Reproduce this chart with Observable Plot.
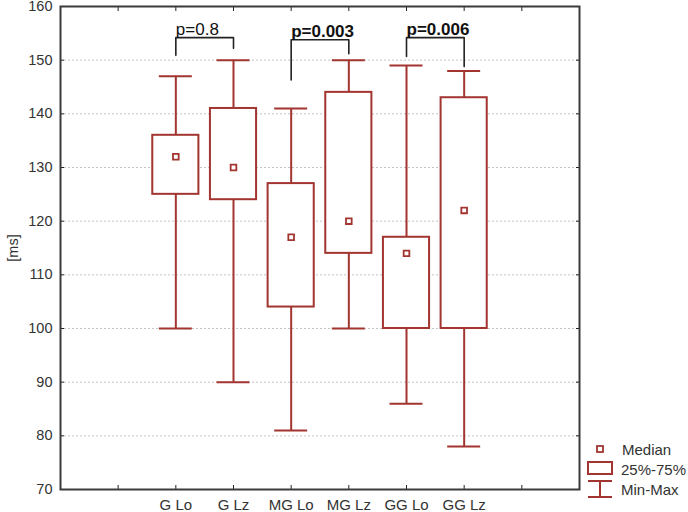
<!DOCTYPE html>
<html><head><meta charset="utf-8">
<script src="https://cdn.jsdelivr.net/npm/d3@7"></script>
<script src="https://cdn.jsdelivr.net/npm/@observablehq/plot@0.6"></script>
<style>
html,body{margin:0;padding:0;background:#fff;}
#wrap{position:relative;width:688px;height:512px;font-family:"Liberation Sans",Arial,sans-serif;}
#legend{position:absolute;left:0;top:0;}
</style></head>
<body><div id="wrap"></div>
<script>
// Data
const categories = ["G Lo", "G Lz", "MG Lo", "MG Lz", "GG Lo", "GG Lz"];
const minVals    = [100, 90, 81, 100, 86, 78];
const q1Vals     = [125, 124, 104, 114, 100, 100];
const medianVals = [132, 130, 117, 120, 114, 122];
const q3Vals     = [136, 141, 127, 144, 117, 143];
const maxVals    = [147, 150, 141, 150, 149, 148];

const tickLabels = ["", "G Lo", "G Lz", "MG Lo", "MG Lz", "GG Lo", "GG Lz", ""];
const yTicks = [70, 80, 90, 100, 110, 120, 130, 140, 150, 160];

// significance brackets
const pLabels = ["p=0.8", "p=0.003", "p=0.006"];
const pBold   = [false, true, true];
const pLeft   = ["G Lo", "MG Lo", "GG Lo"];
const pRight  = ["G Lz", "MG Lz", "GG Lz"];
const pTop    = [154.2, 153.8, 154.2];
const pLegL   = [150.9, 146.3, 150.7];
const pLegR   = [152.2, 151.2, 148.8];

const RED = "#a23530";
const INK = "#333";
const pos = c => tickLabels.indexOf(c) + 1;

const boxes = categories.map((c, k) => ({
  c, x: pos(c), min: minVals[k], q1: q1Vals[k], med: medianVals[k], q3: q3Vals[k], max: maxVals[k]
}));

const bracketPts = [];
pLabels.forEach((lab, k) => {
  const a = pos(pLeft[k]), b = pos(pRight[k]);
  bracketPts.push({k, x: a, y: pLegL[k]}, {k, x: a, y: pTop[k]}, {k, x: b, y: pTop[k]}, {k, x: b, y: pLegR[k]});
});
const bracketText = pLabels.map((lab, k) => ({lab, bold: pBold[k], x: pos(pLeft[k]), y: pTop[k]}));

const chart = Plot.plot({
  width: 688, height: 512,
  marginLeft: 60, marginRight: 109, marginTop: 6, marginBottom: 23,
  style: {fontFamily: '"Liberation Sans", Arial, sans-serif', fontSize: "14px", color: INK, background: "#fff", overflow: "visible"},
  x: {domain: [0, 9]},
  y: {domain: [70, 160]},
  marks: [
    Plot.gridY([80, 90, 100, 110, 120, 130, 140, 150], {stroke: "#c4c4c4", strokeOpacity: 1, strokeDasharray: "2,2", strokeWidth: 1}),
    // whiskers
    Plot.ruleX(boxes, {x: "x", y1: "min", y2: "max", stroke: RED, strokeWidth: 2}),
    Plot.ruleY(boxes, {y: "min", x1: d => d.x - 0.286, x2: d => d.x + 0.286, stroke: RED, strokeWidth: 2}),
    Plot.ruleY(boxes, {y: "max", x1: d => d.x - 0.286, x2: d => d.x + 0.286, stroke: RED, strokeWidth: 2}),
    // boxes
    Plot.rect(boxes, {x1: d => d.x - 0.4, x2: d => d.x + 0.4, y1: "q1", y2: "q3", fill: "#fff", stroke: RED, strokeWidth: 2}),
    // medians
    Plot.dot(boxes, {x: "x", y: "med", symbol: "square", r: 3.2, fill: "#fff", stroke: RED, strokeWidth: 1.8}),
    // brackets
    Plot.line(bracketPts, {x: "x", y: "y", z: "k", stroke: "#222", strokeWidth: 1.6}),
    Plot.text(bracketText.filter(d => !d.bold), {x: "x", y: "y", text: "lab", textAnchor: "start", lineAnchor: "bottom", dy: -3, fontSize: 17, fill: "#111"}),
    Plot.text(bracketText.filter(d => d.bold), {x: "x", y: "y", text: "lab", textAnchor: "start", lineAnchor: "bottom", dy: -3, fontSize: 17, fontWeight: "bold", fill: "#111"}),
    // axes
    Plot.axisY(yTicks, {anchor: "left", tickSize: -4, tickPadding: 12, fontSize: 14.5, stroke: "#222", fill: INK,
      label: "[ms]", labelAnchor: "center", labelOffset: 53, labelArrow: "none"}),
    Plot.axisY(yTicks, {anchor: "right", tickSize: -4, tickFormat: () => "", stroke: "#222", label: null}),
    Plot.axisX([1,2,3,4,5,6,7,8], {anchor: "bottom", tickSize: -4, tickPadding: 14, fontSize: 15, tickFormat: i => tickLabels[i - 1], stroke: "#222", fill: INK, label: null}),
    Plot.axisX([1,2,3,4,5,6,7,8], {anchor: "top", tickSize: -4, tickFormat: () => "", stroke: "#222", label: null}),
    Plot.frame({stroke: "#3a3a3a", strokeWidth: 2})
  ]
});
const wrap = document.getElementById("wrap");
wrap.appendChild(chart);

// Legend (drawn to the right of the plot frame)
const ns = "http://www.w3.org/2000/svg";
const lg = document.createElementNS(ns, "svg");
lg.setAttribute("id", "legend");
lg.setAttribute("width", 688); lg.setAttribute("height", 512);
lg.innerHTML = `
  <rect x="597" y="446" width="6" height="6" fill="#fff" stroke="${RED}" stroke-width="1.8"/>
  <rect x="588" y="462" width="24" height="12" fill="#fff" stroke="${RED}" stroke-width="2"/>
  <line x1="588" x2="612" y1="481" y2="481" stroke="${RED}" stroke-width="2"/>
  <line x1="600" x2="600" y1="481" y2="497" stroke="${RED}" stroke-width="2"/>
  <line x1="588" x2="612" y1="497" y2="497" stroke="${RED}" stroke-width="2"/>
  <g font-family='"Liberation Sans", Arial, sans-serif' font-size="15" fill="${INK}" dominant-baseline="central">
    <text x="622" y="449">Median</text>
    <text x="621" y="469">25%-75%</text>
    <text x="621" y="489">Min-Max</text>
  </g>`;
wrap.appendChild(lg);
</script>
</body></html>
